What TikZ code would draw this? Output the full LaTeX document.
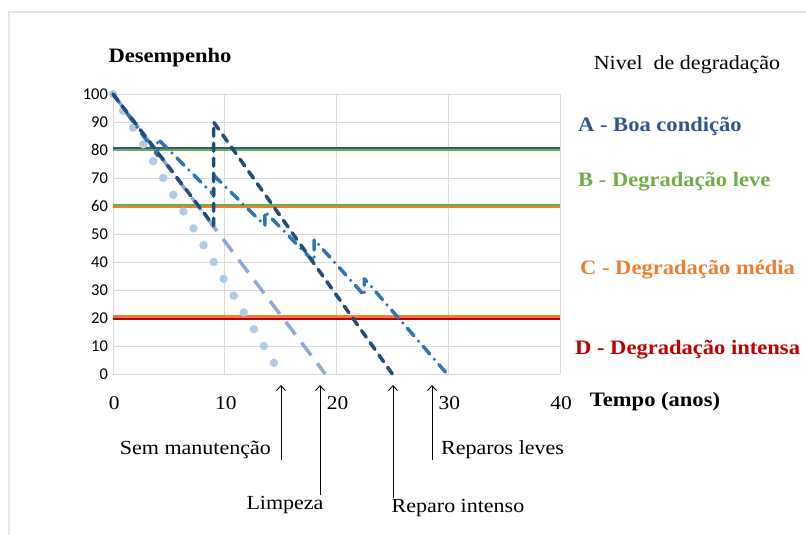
\documentclass[tikz,border=0pt]{standalone}
\usepackage{fontspec}
\setmainfont{Liberation Serif}[FakeStretch=1.1]
\newfontfamily\tickfont{Carlito}
\usepackage{xcolor}
\usetikzlibrary{arrows.meta}

\definecolor{gridgray}{HTML}{D9D9D9}
\definecolor{framegray}{HTML}{E4E4E4}
\definecolor{lvlA}{HTML}{2F5597}
\definecolor{lvlB}{HTML}{70AD47}
\definecolor{lvlC}{HTML}{ED7D31}
\definecolor{lvlD}{HTML}{C00000}
\definecolor{semcor}{HTML}{AECBEA}
\definecolor{limcor}{HTML}{8FA8DC}
\definecolor{levecor}{HTML}{2E75B6}
\definecolor{intcor}{HTML}{1F4E79}

\tikzset{
  gridline/.style={gridgray, line width=0.8pt},
  txt/.style={font=\fontsize{20}{22}\selectfont, inner sep=1pt},
  axtitle/.style={font=\bfseries\fontsize{20.5}{22}\selectfont, inner sep=1pt},
  lvltxt/.style={font=\bfseries\fontsize{20.5}{22}\selectfont, anchor=west, inner sep=0pt},
  ytick/.style={font=\tickfont\fontsize{16.5}{18}\selectfont, anchor=east, inner sep=1pt},
  xtick/.style={font=\fontsize{19.5}{21}\selectfont, inner sep=1pt},
  pointer/.style={black, line width=0.9pt, -{Straight Barb[length=5pt,width=9pt]}},
  curve/.style={line width=3.5pt, line join=round},
}

\begin{document}
\begin{tikzpicture}[x=1pt,y=1pt]
        \useasboundingbox (0,0) rectangle (806,535);
        \draw[framegray, line width=1.5pt] (9,0) -- (9,523) -- (806,523);

        \begin{scope}[shift={(113pt,161pt)}, x=11.175pt, y=2.8pt]
            % grade
            \foreach \y in {0,10,...,100} \draw[gridline] (0,\y) -- (40,\y);
            \foreach \x in {0,10,...,40} \draw[gridline] (\x,0) -- (\x,100);
            \foreach \y in {0,10,...,100} \node[ytick] (yt\y) at (-0.35,\y) {\y};
            \foreach \x in {0,10,...,40} \node[xtick] (xt\x) at (\x+0.1,-10.4) {\x};

            % niveis de degradacao
            \draw[lvlB, line width=2pt] (0,80.1) -- (40,80.1);
            \draw[lvlA, line width=2.4pt] (0,80.8) -- (40,80.8);
            \draw[lvlB, line width=2pt] (0,60.5) -- (40,60.5);
            \draw[lvlC, line width=2.2pt] (0,59.7) -- (40,59.7);
            \draw[lvlC, line width=3.6pt] (0,20.3) -- (40,20.3);
            \draw[lvlD, line width=2.4pt] (0,19.6) -- (40,19.6);

            % curvas
            \draw[semcor, line width=8.5pt, line cap=round, dash pattern=on 0pt off 19.58pt] (0,100) -- (14.4,4);
            \draw[limcor, curve, dash pattern=on 16pt off 10pt] (0,100) -- (19,0);
            \draw[levecor, curve, line cap=round, dash pattern=on 10pt off 7pt on 0pt off 7pt]
                (0,100) -- (4,78) -- (4,84) -- (9,64) -- (9,71) -- (13.6,53) -- (13.6,58)
                -- (18,40) -- (18,48) -- (22.5,28) -- (22.5,34) -- (29.9,0);
            \draw[intcor, curve, line cap=round, dash pattern=on 8pt off 7pt] (0,100) -- (9,53) -- (9,90) -- (25,0);
        \end{scope}

        \node[axtitle] (desemp) at (170,477) {Desempenho};
        \node[axtitle] (tempo) at (655,133) {Tempo (anos)};
        \node[txt] (nivel) at (687,470) {Nivel\ \ de degradação};

        \node[lvltxt, lvlA] (boa) at (578,409) {A - Boa condição};
        \node[lvltxt, lvlB] (leve) at (578,353) {B - Degradação leve};
        \node[lvltxt, lvlC] (media) at (580,265) {C - Degradação média};
        \node[lvltxt, lvlD] (intensa) at (575,185) {D - Degradação intensa};

        \coordinate (semtip) at (281,150);
        \coordinate (limtip) at (320,150);
        \coordinate (inttip) at (393,150);
        \coordinate (levtip) at (432,150);

        \node[txt, anchor=east] (semlbl) at (272,85) {Sem manutenção};
        \node[txt] (limlbl) at (285,30) {Limpeza};
        \node[txt] (intlbl) at (458,27) {Reparo intenso};
        \node[txt, anchor=west] (levlbl) at (440,85) {Reparos leves};

        \draw[pointer] (semlbl.south -| semtip) -- (semtip);
        \draw[pointer] (limlbl.north -| limtip) -- (limtip);
        \draw[pointer] (intlbl.north -| inttip) -- (inttip);
        \draw[pointer] (levlbl.south -| levtip) -- (levtip);
\end{tikzpicture}
\end{document}
